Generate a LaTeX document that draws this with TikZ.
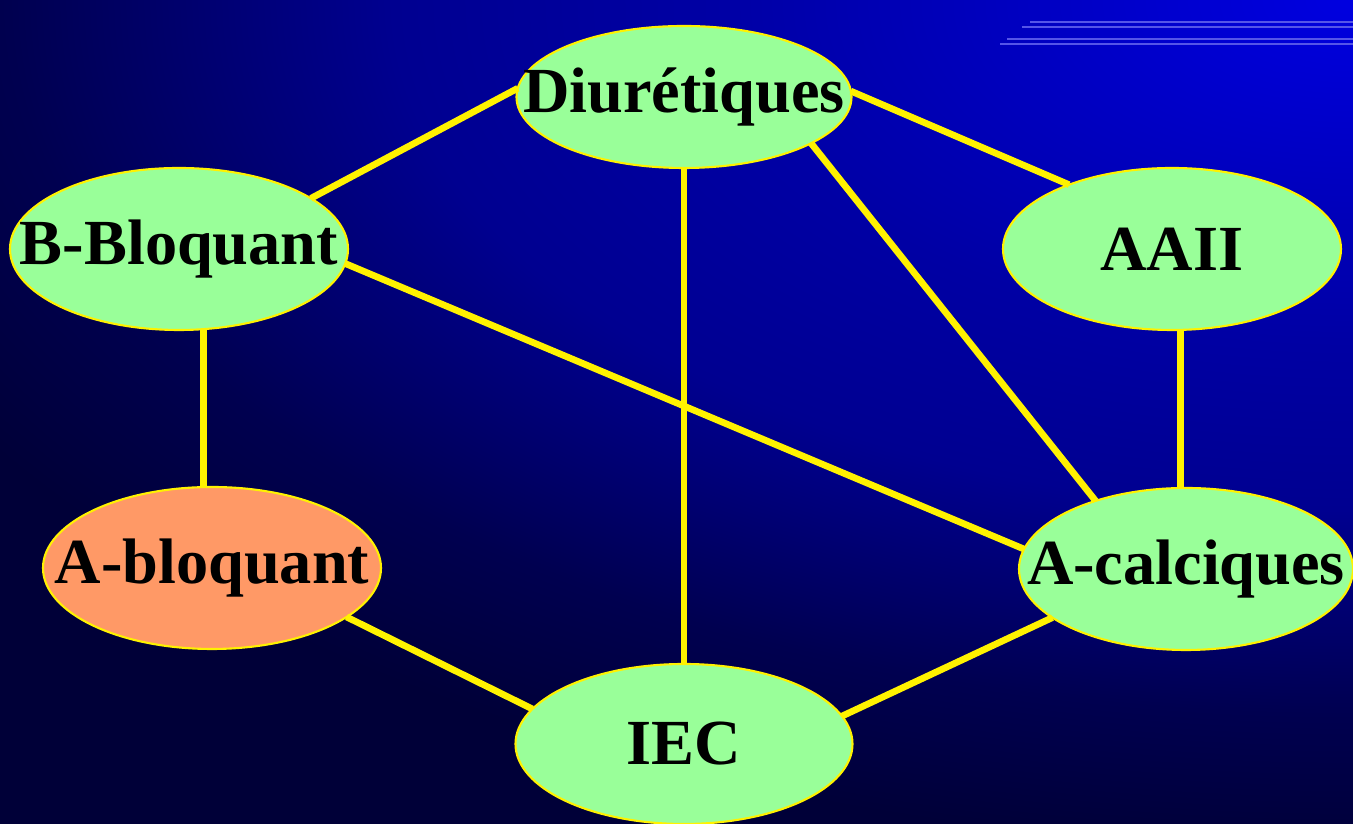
\documentclass[tikz,border=0pt]{standalone}
\usepackage{fontspec}
\setmainfont{Liberation Serif}
\usetikzlibrary{shapes.geometric}

\definecolor{bgdark}{RGB}{0,0,56}
\definecolor{bgfar}{RGB}{0,0,80}
\definecolor{bgmid}{RGB}{0,0,144}
\definecolor{bgnear}{RGB}{0,0,164}
\definecolor{bgbright}{RGB}{0,0,224}
\definecolor{drug}{HTML}{99FF99}
\definecolor{drugalt}{HTML}{FF9966}
\definecolor{stripe}{HTML}{5555E8}
\pgfdeclareradialshading{slidebg}{\pgfpointorigin}{color(0bp)=(bgbright); color(10bp)=(bgnear); color(15bp)=(bgmid); color(21bp)=(bgfar); color(25bp)=(bgdark); color(50bp)=(bgdark)}

\tikzset{
  drugbox/.style={ellipse, draw=yellow, line width=0.6pt, fill=drug, inner sep=0pt, outer sep=0pt,
    minimum width=3.38cm, minimum height=1.62cm,
    font=\fontsize{18.3}{22}\selectfont\bfseries},
  link/.style={yellow, line width=1.9pt},
  deco/.style={stripe, line width=0.35pt}
}

\begin{document}
\begin{tikzpicture}
\useasboundingbox (0,0) rectangle (13.53,-8.24);
\begin{scope}
  \clip (0,0) rectangle (13.53,-8.24);
  \shade[shading=slidebg] (-2.47,8.5) rectangle (29.53,-8.5);
\end{scope}
% stripes top right
\foreach \x/\y in {10.30/0.22, 10.22/0.27, 10.07/0.39, 10.00/0.44}
  \draw[deco] (\x,-\y) -- (13.53,-\y);

\node[drugbox, minimum width=3.35cm, minimum height=1.42cm] (diu) at (6.84,-0.97) {\makebox[0pt]{Diurétiques}};
\node[drugbox] (bb) at (1.79,-2.49) {\makebox[0pt]{B-Bloquant}};
\node[drugbox] (aaii) at (11.72,-2.49) {\makebox[0pt]{AAII}};
\node[drugbox, fill=drugalt] (ab) at (2.12,-5.68) {\makebox[0pt]{A-bloquant}};
\node[drugbox, minimum width=3.34cm] (ac) at (11.86,-5.69) {\makebox[0pt]{A-calciques}};
\node[drugbox, minimum width=3.37cm, minimum height=1.6cm] (iec) at (6.84,-7.44) {\makebox[0pt]{IEC}};

% links
\draw[link] (diu.177.5) -- (bb.21.7);
\draw[link] (diu.2) -- (aaii.148);
\draw[link] (diu.-90) -- (iec.90);
\draw[link] (diu.-20.3) -- (ac.143.4);
\draw[link] (bb.-73) -- (bb.-73 |- ab.north);
\draw[link] (bb.-5.3) -- (ac.173.5);
\draw[link] (aaii.-84) -- (aaii.-84 |- ac.north);
\draw[link] (ab.-20.2) -- (iec.167.6);
\draw[link] (ac.200) -- (iec.10.8);
\end{tikzpicture}
\end{document}
